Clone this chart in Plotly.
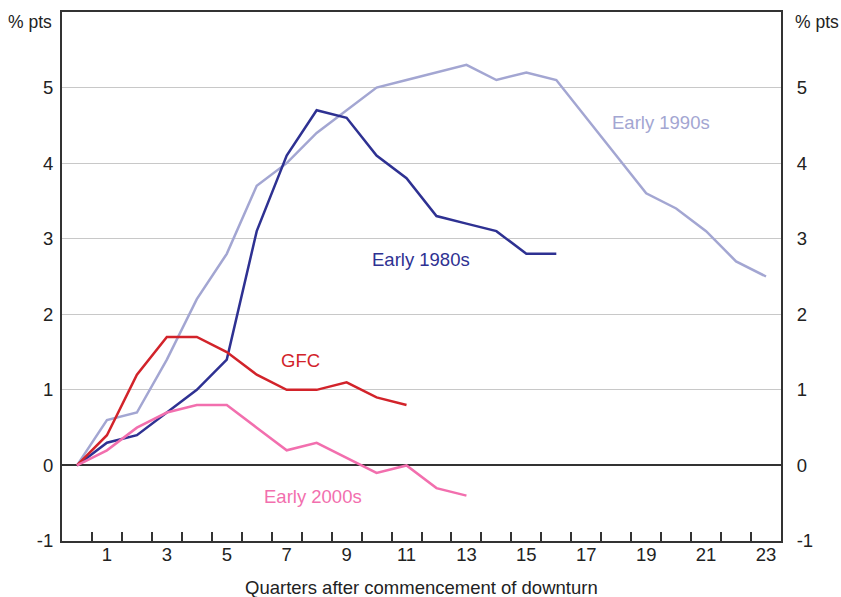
import plotly.graph_objects as go

quarters = list(range(0, 24))
early_1990s = [0, 0.6, 0.7, 1.4, 2.2, 2.8, 3.7, 4.0, 4.4, 4.7, 5.0, 5.1, 5.2, 5.3, 5.1, 5.2, 5.1, 4.6, 4.1, 3.6, 3.4, 3.1, 2.7, 2.5]
early_1980s = [0, 0.3, 0.4, 0.7, 1.0, 1.4, 3.1, 4.1, 4.7, 4.6, 4.1, 3.8, 3.3, 3.2, 3.1, 2.8, 2.8]
gfc = [0, 0.4, 1.2, 1.7, 1.7, 1.5, 1.2, 1.0, 1.0, 1.1, 0.9, 0.8]
early_2000s = [0, 0.2, 0.5, 0.7, 0.8, 0.8, 0.5, 0.2, 0.3, 0.1, -0.1, 0.0, -0.3, -0.4]

x_label_vals = list(range(1, 24, 2))
x_tick_vals = [i + 0.5 for i in range(0, 23)]
y_vals = [-1, 0, 1, 2, 3, 4, 5]
y_text = ["-1", "0", "1", "2", "3", "4", "5"]

c90 = "#A3A6D2"
c80 = "#2E3192"
cgfc = "#D2232A"
c00 = "#F26FAE"

FONT = "Liberation Sans, Arial, sans-serif"
TXT = "#222222"
FS = 18.5

fig = go.Figure()
series = [
    ("Early 1990s", early_1990s, c90),
    ("Early 1980s", early_1980s, c80),
    ("GFC", gfc, cgfc),
    ("Early 2000s", early_2000s, c00),
]
for name, vals, col in series:
    fig.add_trace(go.Scatter(x=quarters[:len(vals)], y=vals, mode="lines", name=name,
                             line=dict(color=col, width=2.5), showlegend=False,
                             xaxis="x", yaxis="y"))

# invisible trace to anchor secondary axes
fig.add_trace(go.Scatter(x=[0], y=[0], mode="markers", marker=dict(opacity=0), showlegend=False,
                         hoverinfo="skip", xaxis="x2", yaxis="y2"))

fig.update_layout(
    width=841, height=597,
    margin=dict(l=62, r=60, t=12, b=56, autoexpand=False),
    paper_bgcolor="white", plot_bgcolor="white",
    font=dict(family=FONT, size=FS, color=TXT),
    xaxis=dict(range=[-0.5, 23.5], tickvals=x_tick_vals, ticktext=[""] * len(x_tick_vals),
               ticks="inside", ticklen=9, tickwidth=1.5, tickcolor="#333333", automargin=False,
               showgrid=False, zeroline=False, showline=True, linecolor="#333333", linewidth=2,
               mirror=True),
    xaxis2=dict(range=[-0.5, 23.5], overlaying="x", matches="x", side="bottom", anchor="y",
                tickvals=x_label_vals, ticks="", showgrid=False, zeroline=False, showline=False,
                automargin=False, tickfont=dict(size=FS, color=TXT)),
    yaxis=dict(range=[-1, 6], tickvals=y_vals, ticktext=y_text, ticks="", showgrid=True,
               gridcolor="#C8C8C8", gridwidth=1.2, automargin=False,
               zeroline=True, zerolinecolor="#333333", zerolinewidth=2,
               showline=True, linecolor="#333333", linewidth=2, ticklabelstandoff=3),
    yaxis2=dict(range=[-1, 6], overlaying="y", matches="y", side="right", anchor="x",
                tickvals=y_vals, ticktext=y_text, ticks="", automargin=False,
                showgrid=False, zeroline=False, showline=True, linecolor="#333333", linewidth=2,
                ticklabelstandoff=10),
)

annots = [
    dict(x=-0.011, y=5.87, xref="paper", yref="y", text="% pts", xanchor="right",
         font=dict(size=17.5, color=TXT)),
    dict(x=1.016, y=5.87, xref="paper", yref="y", text="% pts", xanchor="left",
         font=dict(size=17.5, color=TXT)),
    dict(x=0.5, y=-0.087, xref="paper", yref="paper", text="Quarters after commencement of downturn",
         yanchor="middle"),
    dict(x=19.48, y=4.54, text="Early 1990s", font=dict(color=c90, size=FS)),
    dict(x=11.48, y=2.72, text="Early 1980s", font=dict(color=c80, size=FS)),
    dict(x=7.47, y=1.39, text="GFC", font=dict(color=cgfc, size=FS)),
    dict(x=7.87, y=-0.41, text="Early 2000s", font=dict(color=c00, size=FS)),
]
for a in annots:
    a.setdefault("showarrow", False)
    a.setdefault("xref", "x")
    a.setdefault("yref", "y")
    fig.add_annotation(**a)

# remove the default page margin so the figure fills the window exactly
fig.write_html("out.html",
               config={"displayModeBar": False},
               post_script="document.body.style.margin='0';document.body.style.overflow='hidden';")
